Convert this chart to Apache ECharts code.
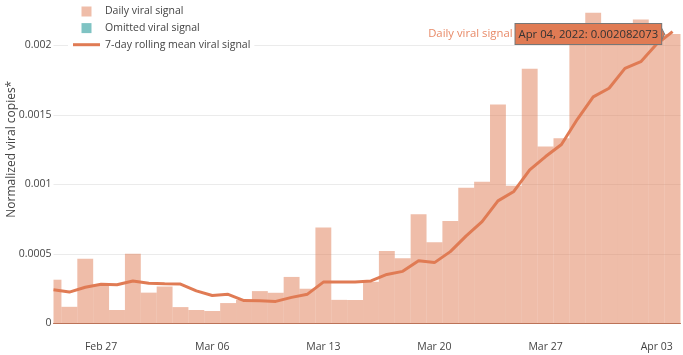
<!DOCTYPE html>
<html>
<head>
<meta charset="utf-8">
<script src="https://cdn.jsdelivr.net/npm/echarts@6/dist/echarts.min.js"></script>
<style>
  html, body { margin: 0; padding: 0; background: #fff; }
  #chart { width: 683px; height: 355px; }
</style>
</head>
<body>
<div id="chart"></div>
<script>
// ---- data ----
const dates = ['Feb 24','Feb 25','Feb 26','Feb 27','Feb 28','Mar 01','Mar 02','Mar 03','Mar 04','Mar 05',
  'Mar 06','Mar 07','Mar 08','Mar 09','Mar 10','Mar 11','Mar 12','Mar 13','Mar 14','Mar 15',
  'Mar 16','Mar 17','Mar 18','Mar 19','Mar 20','Mar 21','Mar 22','Mar 23','Mar 24','Mar 25',
  'Mar 26','Mar 27','Mar 28','Mar 29','Mar 30','Mar 31','Apr 01','Apr 02','Apr 03','Apr 04'];
const dailySignal = [0.000315,0.000120,0.000466,0.000275,0.000097,0.000501,0.000222,0.000266,0.000118,0.000097,
  0.000090,0.000147,0.000170,0.000233,0.000221,0.000335,0.000250,0.000690,0.000170,0.000169,
  0.000300,0.000522,0.000469,0.000786,0.000584,0.000738,0.000976,0.001020,0.001575,0.000990,
  0.001833,0.001274,0.001333,0.002157,0.002235,0.002040,0.002030,0.002186,0.002050,0.002082073];
const omittedSignal = [];
const rollingMean = [0.000242,0.000226,0.000261,0.000283,0.000279,0.000306,0.000290,0.000286,0.000284,0.000235,
  0.000201,0.000210,0.000165,0.000164,0.000159,0.000188,0.000211,0.000298,0.000299,0.000299,
  0.000306,0.000353,0.000375,0.000452,0.000438,0.000517,0.000630,0.000733,0.000882,0.000950,
  0.001105,0.001201,0.001288,0.001469,0.001630,0.001692,0.001835,0.001883,0.002010,0.002100];
const tickLabels = ['Feb 27','Mar 06','Mar 13','Mar 20','Mar 27','Apr 03'];
const yTicks = [0, 0.0005, 0.001, 0.0015, 0.002];
const yMax = 0.002327;
const hoverYear = '2022';

// ---- build ----
const tickIdx = tickLabels.map(l => dates.indexOf(l));
const barData = dailySignal.map((v, i) => [i, v]);
const omittedData = omittedSignal.map((v, i) => [i, v]);
const lineData = rollingMean.map((v, i) => [i, v]);
const last = dailySignal.length - 1;
const FONT = 'Open Sans';
const HALF = 0.5; // half a day: bars fill the whole day (no gap)

function renderBar(params, api) {
  const i = api.value(0), v = api.value(1);
  const p0 = api.coord([i - HALF, 0]);
  const p1 = api.coord([i + HALF, v]);
  const cs = params.coordSys;
  const shape = echarts.graphic.clipRectByRect(
    { x: p0[0], y: p1[1], width: p1[0] - p0[0], height: p0[1] - p1[1] },
    { x: cs.x, y: cs.y, width: cs.width, height: cs.height });
  return shape && { type: 'rect', shape: shape, style: api.style() };
}

const chart = echarts.init(document.getElementById('chart'), null, { renderer: 'canvas' });
chart.setOption({
  animation: false,
  backgroundColor: '#fff',
  grid: { left: 53.5, right: 2.5, top: 0, bottom: 31.5, containLabel: false, outerBoundsMode: 'none' },
  legend: {
    orient: 'vertical', left: 68, top: 0,
    padding: [5.5, 4, 3, 5],
    itemGap: 4.6, itemWidth: 27, itemHeight: 10,
    backgroundColor: '#fff',
    symbolKeepAspect: true,
    textStyle: { fontFamily: FONT, fontSize: 10.5, color: '#444', lineHeight: 12 },
    data: [
      { name: 'Daily viral signal', icon: 'path://M0,0h10v10h-10z' },
      { name: 'Omitted viral signal', icon: 'path://M0,0h10v10h-10z' },
      { name: '7-day rolling mean viral signal', icon: 'path://M0,0h27v3h-27z' }
    ]
  },
  xAxis: {
    type: 'value', min: 0, max: dates.length - 0.5,
    axisLine: { show: true, lineStyle: { color: '#b0705a', width: 1 } },
    axisTick: { show: false },
    splitLine: { show: false },
    axisLabel: {
      customValues: tickIdx,
      formatter: v => dates[v],
      fontFamily: FONT, fontSize: 10.5, color: '#444', margin: 18
    }
  },
  yAxis: {
    type: 'value', min: 0, max: yMax, interval: 0.0005,
    name: 'Normalized viral copies*', nameLocation: 'middle', nameGap: 36,
    nameMoveOverlap: false,
    nameTextStyle: { fontFamily: FONT, fontSize: 12, color: '#444', padding: [0, 0, 0, 25] },
    axisLine: { show: false }, axisTick: { show: false },
    splitLine: { showMaxLine: false, lineStyle: { color: '#ebebeb', width: 1 } },
    axisLabel: {
      customValues: yTicks,
      formatter: v => String(v),
      fontFamily: FONT, fontSize: 10.5, color: '#444', margin: 2
    }
  },
  series: [
    {
      name: 'Daily viral signal', type: 'custom', data: barData,
      encode: { x: 0, y: 1 },
      renderItem: renderBar,
      itemStyle: { color: 'rgba(224,123,84,0.5)' },
      z: 2
    },
    {
      name: 'Omitted viral signal', type: 'custom', data: omittedData,
      encode: { x: 0, y: 1 },
      renderItem: renderBar,
      itemStyle: { color: 'rgba(0,136,136,0.5)' },
      z: 2
    },
    {
      name: '7-day rolling mean viral signal', type: 'line', data: lineData, clip: true,
      symbol: 'none', showSymbol: false,
      lineStyle: { color: '#e07b54', width: 3 },
      itemStyle: { color: '#e07b54' },
      z: 3,
      markPoint: {
        symbol: 'path://M0,0L6,6L0,12Z', symbolSize: [6, 12], symbolOffset: [-9.5, 0],
        symbolKeepAspect: true,
        itemStyle: { color: '#e07b54', borderColor: '#777', borderWidth: 1 },
        label: {
          show: true, position: 'left', distance: 0,
          formatter: () => '{a|Daily viral signal}{b|' + dates[last] + ', ' + hoverYear + ': ' + dailySignal[last] + '}',
          rich: {
            a: { fontFamily: FONT, fontSize: 11.3, color: '#e88a68', padding: [0, 3, 0, 0] },
            b: { fontFamily: FONT, fontSize: 11.3, color: '#333', backgroundColor: '#e07b54',
                 borderColor: '#777', borderWidth: 1, padding: [5, 3, 4, 3] }
          }
        },
        data: [{ coord: [last, dailySignal[last]] }]
      }
    }
  ]
});
</script>
</body>
</html>
